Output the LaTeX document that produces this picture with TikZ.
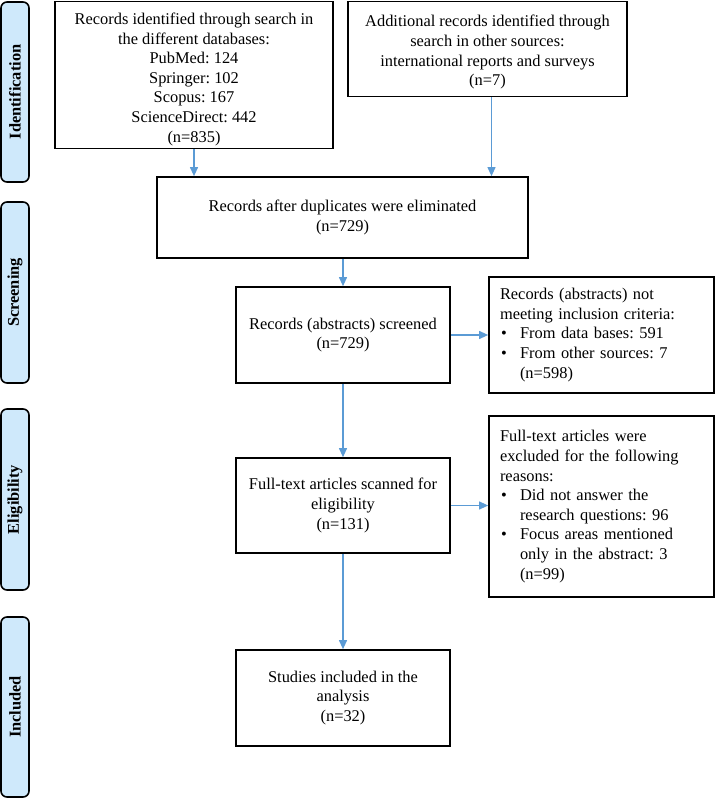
\documentclass[tikz,border=0pt]{standalone}
\usepackage{fontspec}
\setmainfont{Liberation Serif}
\usetikzlibrary{arrows.meta}
\definecolor{arrowblue}{HTML}{5B9BD5}
\definecolor{sidefill}{HTML}{CFE9FB}
\newcommand{\bul}{\makebox[20pt][l]{\hspace{1pt}•}}
\newcommand{\indt}{\hspace*{20pt}}
\frenchspacing
\begin{document}
\begin{tikzpicture}[x=1pt,y=-1pt,
  box/.style={draw=black, line width=1.7pt, inner sep=0pt, align=center,
    font=\fontsize{16.4}{19.6}\selectfont},
  lbox/.style={draw=black, line width=1.7pt, inner xsep=11pt, inner ysep=0pt, align=left,
    font=\fontsize{16.4}{19.6}\selectfont},
  side/.style={draw=black, fill=sidefill, rounded corners=6pt, line width=1.6pt,
    rotate=90, minimum height=28pt, inner sep=0pt,
    font=\fontsize{16.4}{19.6}\selectfont\bfseries},
  arr/.style={draw=arrowblue, line width=1.1pt, -{Triangle[length=9pt,width=8pt]}}]
\useasboundingbox (0,0) rectangle (716,799);

% side labels
\node[side, minimum width=180pt] (sid) at (15,92) {Identification};
\node[side, minimum width=181pt] (sscr) at (15,292.5) {Screening};
\node[side, minimum width=181pt] (selg) at (15,499.5) {Eligibility};
\node[side, minimum width=180pt] (sinc) at (15,707) {Included};

% boxes
\node[box, minimum width=278pt, minimum height=147pt] (b1) at (194,75)
  {\rule{0pt}{20pt}Records identified through search in\\the different databases:\\PubMed: 124\\Springer: 102\\Scopus: 167\\ScienceDirect: 442\\(n=835)};
\node[box, minimum width=279pt, minimum height=95pt] (b2) at (487.5,49)
  {\rule{0pt}{18pt}Additional records identified through\\search in other sources:\\international reports and surveys\\(n=7)};
\node[box, minimum width=371pt, minimum height=81pt] (b3) at (342.5,217.5)
  {Records after duplicates were eliminated\\(n=729)};
\node[box, minimum width=214pt, minimum height=96pt] (b4) at (343,335)
  {Records (abstracts) screened\\(n=729)};
\node[lbox, text width=203pt, minimum height=116pt] (b5) at (601.5,335)
  {Records (abstracts) not\\meeting inclusion criteria:\\\bul From data bases: 591\\\bul From other sources: 7\\\indt(n=598)};
\node[box, minimum width=214pt, minimum height=95pt] (b7) at (343,505.5)
  {Full-text articles scanned for\\eligibility\\(n=131)};
\node[lbox, text width=203pt, minimum height=181pt] (b6) at (601.5,506.5)
  {Full-text articles were\\excluded for the following\\reasons:\\\bul Did not answer the\\\indt research questions: 96\\\bul Focus areas mentioned\\\indt only in the abstract: 3\\\indt(n=99)};
\node[box, minimum width=214pt, minimum height=96pt] (b8) at (343,698)
  {Studies included in the\\analysis\\(n=32)};

% connectors
\draw[arr] (b1.south) -- (b1.south |- b3.north);
\draw[arr] ([xshift=4pt]b2.south) -- ([xshift=4pt]b2.south |- b3.north);
\draw[arr] (b3.south -| b4.north) -- (b4.north);
\draw[arr] (b4.east) -- (b4.east -| b5.west);
\draw[arr] (b4.south) -- (b7.north);
\draw[arr] (b7.east) -- (b7.east -| b6.west);
\draw[arr] (b7.south) -- (b8.north);
\end{tikzpicture}
\end{document}
